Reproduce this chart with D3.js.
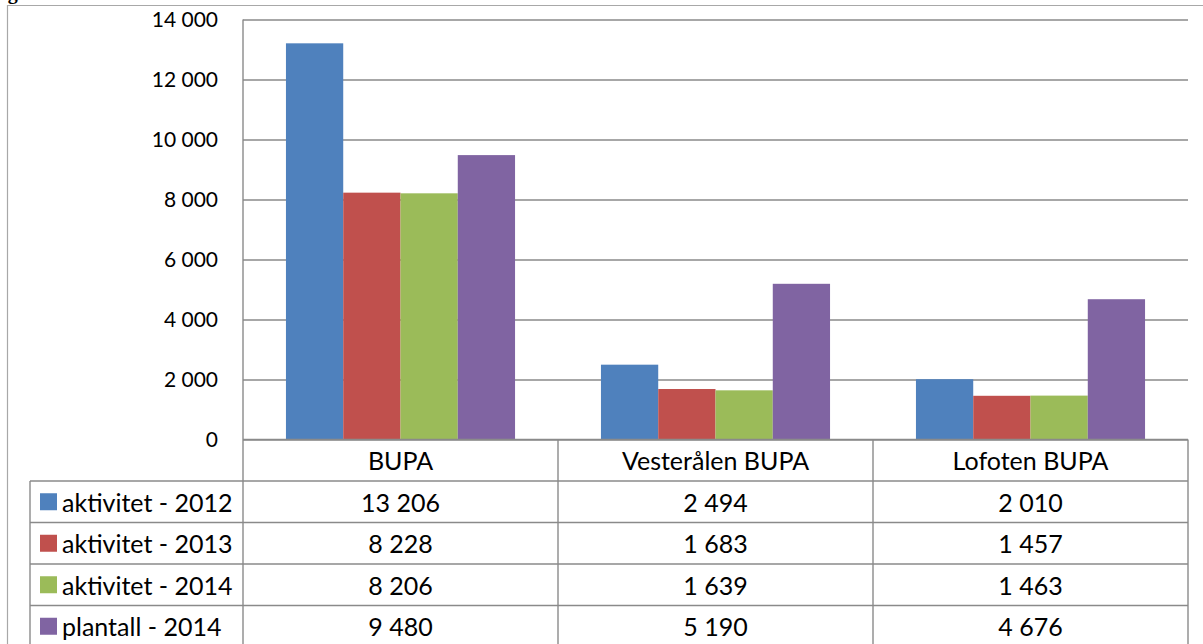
<!DOCTYPE html>
<html>
<head>
<meta charset="utf-8">
<script src="https://cdn.jsdelivr.net/npm/d3@7"></script>
<style>
  body { margin: 0; background: #fff; }
  svg { display: block; }
  text { font-family: Lato, "Open Sans", sans-serif; fill: #000; }
</style>
</head>
<body>
<svg id="chart" width="1203" height="644"></svg>
<script>
// Activity figures per unit, with the planned number for 2014
const categories = ["BUPA", "Vesterålen BUPA", "Lofoten BUPA"];
const seriesNames = ["aktivitet - 2012", "aktivitet - 2013", "aktivitet - 2014", "plantall - 2014"];
const aktivitet2012 = [13206, 2494, 2010];
const aktivitet2013 = [8228, 1683, 1457];
const aktivitet2014 = [8206, 1639, 1463];
const plantall2014 = [9480, 5190, 4676];
const yTicks = [0, 2000, 4000, 6000, 8000, 10000, 12000, 14000];
const seriesColors = ["#4F81BD", "#C0504D", "#9BBB59", "#8064A2"];

const seriesValues = [aktivitet2012, aktivitet2013, aktivitet2014, plantall2014];
const series = seriesNames.map((name, i) => ({ name, values: seriesValues[i], color: seriesColors[i] }));

const nb = d3.formatLocale({ decimal: ",", thousands: "\u00a0", grouping: [3], currency: ["", ""] });
const fmt = nb.format(",d");

const svg = d3.select("#chart");
const gridColor = "#8a8a8a";

// layout
const plotLeft = 243, plotRight = 1188, plotTop = 19.5, plotBottom = 439.5;
const tableLeft = 30;
const rowH = 41.5;
const headerBottom = plotBottom + rowH;
const tableBottom = headerBottom + rowH * series.length;

const x = d3.scaleBand().domain(categories).range([plotLeft, plotRight]).padding(0);
const xs = d3.scaleBand().domain(seriesNames).range([0, x.bandwidth()]).paddingInner(0).paddingOuter(0.75);
const y = d3.scaleLinear().domain([0, 14000]).range([plotBottom, plotTop]);

// outer frame
svg.append("path")
  .attr("d", `M7.5,650 V5.5 H1210`)
  .attr("fill", "none").attr("stroke", "#a8a8a8").attr("stroke-width", 1.2);

// caption fragment above the frame
svg.append("text")
  .attr("x", -10).attr("y", -1.5)
  .style("font-family", "'Liberation Serif', serif")
  .style("font-weight", "bold").style("font-size", "20px")
  .text("Figur");

// gridlines + tick labels
const yAxis = d3.axisLeft(y)
  .tickValues(yTicks)
  .tickSizeInner(-(plotRight - plotLeft))
  .tickSizeOuter(0)
  .tickPadding(25)
  .tickFormat(fmt);

const gy = svg.append("g").attr("transform", `translate(${plotLeft},0)`).call(yAxis);
gy.select(".domain").remove();
gy.selectAll(".tick line").attr("stroke", gridColor).attr("stroke-width", 1.4);
gy.selectAll(".tick text")
  .attr("font-size", null)
  .style("font-size", "21px")
  .style("font-family", "Lato, sans-serif")
  .attr("fill", "#000");

// bars
const groups = svg.append("g").selectAll("g")
  .data(series).join("g")
  .attr("fill", d => d.color);

groups.selectAll("rect")
  .data(s => s.values.map((v, i) => ({ name: s.name, cat: categories[i], value: v })))
  .join("rect")
  .attr("x", d => x(d.cat) + xs(d.name))
  .attr("width", xs.bandwidth())
  .attr("y", d => y(d.value))
  .attr("height", d => y(0) - y(d.value));

// data table lines
const lines = svg.append("g").attr("stroke", gridColor).attr("stroke-width", 1.4).attr("fill", "none");
// value axis line continuing down as the first table divider
lines.append("line").attr("x1", plotLeft).attr("x2", plotLeft).attr("y1", plotTop).attr("y2", tableBottom);
// baseline / header top
lines.append("line").attr("x1", plotLeft).attr("x2", plotRight).attr("y1", plotBottom).attr("y2", plotBottom);
// row separators
d3.range(series.length + 1).forEach(i => {
  const yy = headerBottom + i * rowH;
  lines.append("line").attr("x1", tableLeft).attr("x2", plotRight).attr("y1", yy).attr("y2", yy);
});
// left edge of legend column
lines.append("line").attr("x1", tableLeft).attr("x2", tableLeft).attr("y1", headerBottom).attr("y2", tableBottom);
// category dividers
categories.forEach(c => {
  const xx = x(c) + x.bandwidth();
  lines.append("line").attr("x1", xx).attr("x2", xx).attr("y1", plotBottom).attr("y2", tableBottom);
});

// header labels
svg.append("g").selectAll("text")
  .data(categories).join("text")
  .attr("x", d => x(d) + x.bandwidth() / 2)
  .attr("y", plotBottom + rowH / 2)
  .attr("text-anchor", "middle")
  .attr("dominant-baseline", "central")
  .style("font-size", "25px")
  .text(d => d);

// table rows
const rows = svg.append("g").selectAll("g")
  .data(series).join("g")
  .attr("transform", (d, i) => `translate(0,${headerBottom + i * rowH + rowH / 2})`);

rows.append("rect")
  .attr("x", 40).attr("y", -8.5).attr("width", 17).attr("height", 17)
  .attr("fill", d => d.color);

rows.append("text")
  .attr("x", 62).attr("y", 0)
  .attr("dominant-baseline", "central")
  .style("font-size", "25px")
  .text(d => d.name);

rows.selectAll("text.val")
  .data(s => s.values.map((v, i) => ({ cat: categories[i], value: v })))
  .join("text")
  .attr("class", "val")
  .attr("x", d => x(d.cat) + x.bandwidth() / 2)
  .attr("y", 0)
  .attr("text-anchor", "middle")
  .attr("dominant-baseline", "central")
  .style("font-size", "25px")
  .text(d => fmt(d.value));
</script>
</body>
</html>
